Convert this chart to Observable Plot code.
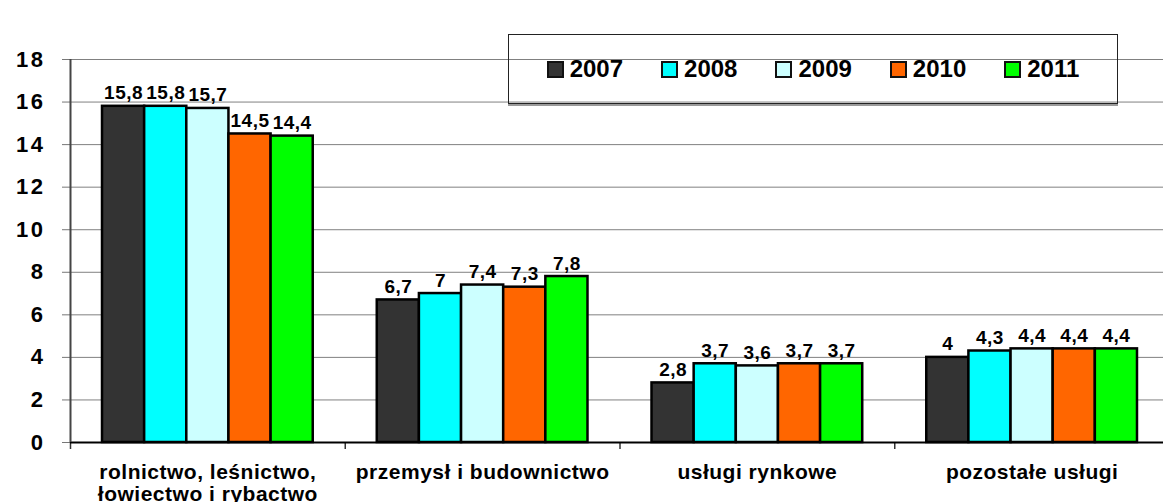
<!DOCTYPE html>
<html>
<head>
<meta charset="utf-8">
<script src="https://cdn.jsdelivr.net/npm/d3@7"></script>
<script src="https://cdn.jsdelivr.net/npm/@observablehq/plot@0.6"></script>
<style>
  body { margin: 0; background: #fff; font-family: "Liberation Sans", Arial, sans-serif; }
  #wrap { position: relative; width: 1163px; height: 502px; overflow: hidden; }
  #legend {
    position: absolute; left: 508px; top: 34px; width: 610px; height: 70px;
    box-sizing: border-box; border: 1px solid #222; box-shadow: 0 2px 0 #9a9a9a;
    display: flex; align-items: center; justify-content: center; gap: 38px;
  }
  .item { display: flex; align-items: center; gap: 6px;
    font-family: "Liberation Sans", Arial, sans-serif;
    font-weight: bold; font-size: 24px; color: #000; }
  .sw { width: 13px; height: 13px; border: 2px solid #111; }
  svg text { font-weight: bold; }
  g[aria-label="y-axis tick label"] text { letter-spacing: 2.5px; }
  g[aria-label="x-axis tick label"] text { letter-spacing: 0.5px; }
  g[aria-label="text"] text { letter-spacing: 0.5px; }
</style>
</head>
<body>
<div id="wrap"></div>
<script>
// ---- data ----
const categories = ["rolnictwo, leśnictwo, łowiectwo i rybactwo", "przemysł i budownictwo", "usługi rynkowe", "pozostałe usługi"];
const categoryLabels = ["rolnictwo, leśnictwo,\nłowiectwo i rybactwo", "przemysł i budownictwo", "usługi rynkowe", "pozostałe usługi"];
const years = ["2007", "2008", "2009", "2010", "2011"];
const values2007 = [15.8, 6.7, 2.8, 4];
const values2008 = [15.8, 7, 3.7, 4.3];
const values2009 = [15.7, 7.4, 3.6, 4.4];
const values2010 = [14.5, 7.3, 3.7, 4.4];
const values2011 = [14.4, 7.8, 3.7, 4.4];
const yTicks = [0, 2, 4, 6, 8, 10, 12, 14, 16, 18];
const colors = ["#333333", "#00ffff", "#ccffff", "#ff6600", "#00ff00"];

// ---- layout of grouped bars in the linear x domain (one unit per category) ----
const series = [values2007, values2008, values2009, values2010, values2011];
const groupPadding = 0.1165;
const barSpan = (1 - 2 * groupPadding) / years.length;
const rows = categories.flatMap((cat, i) => years.map((year, j) => ({
  cat, year, value: series[j][i],
  x1: i + groupPadding + j * barSpan,
  x2: i + groupPadding + (j + 1) * barSpan
})));
const fmt = v => String(v).replace(".", ",");

const chart = Plot.plot({
  width: 1163, height: 502,
  marginLeft: 70, marginRight: -6, marginTop: 59, marginBottom: 60,
  style: { fontFamily: '"Liberation Sans", Arial, sans-serif', fontWeight: "bold", color: "#000", background: "transparent", overflow: "visible" },
  x: { domain: [0, categories.length] },
  y: { domain: [0, 18] },
  color: { domain: years, range: colors },
  marks: [
    Plot.gridY(yTicks, { stroke: "#808080", strokeOpacity: 1, strokeWidth: 1 }),
    Plot.axisY({ ticks: yTicks, tickSize: 8, tickPadding: 17, fontSize: 22, fontWeight: "bold", stroke: "#777", label: null }),
    Plot.axisX({ ticks: d3.range(0, categories.length + 1), tickSize: 7, tickFormat: () => "", stroke: "#333", strokeWidth: 1.5, label: null }),
    Plot.axisX({ ticks: categories.map((_, i) => i + 0.5), tickSize: 0, tickPadding: 21, fontSize: 21, fontWeight: "bold", lineHeight: 1.05,
                 tickFormat: d => categoryLabels[Math.floor(d)], label: null }),
    Plot.rectY(rows, { x1: "x1", x2: "x2", y: "value", fill: "year", stroke: "#000", strokeWidth: 2.5 }),
    Plot.ruleY([0], { stroke: "#000", strokeWidth: 2 }),
    Plot.ruleX([0], { stroke: "#444", strokeWidth: 2 }),
    Plot.text(rows, { x: d => (d.x1 + d.x2) / 2, y: "value", text: d => fmt(d.value), lineAnchor: "bottom", dy: -7,
                      fontSize: 19, fontWeight: "bold", fill: "#000" })
  ]
});

const wrap = document.getElementById("wrap");
wrap.appendChild(chart);

// legend
const legend = document.createElement("div");
legend.id = "legend";
years.forEach((y, i) => {
  const item = document.createElement("div");
  item.className = "item";
  const sw = document.createElement("span");
  sw.className = "sw";
  sw.style.background = colors[i];
  const t = document.createElement("span");
  t.textContent = y;
  item.appendChild(sw); item.appendChild(t);
  legend.appendChild(item);
});
wrap.appendChild(legend);
</script>
</body>
</html>
